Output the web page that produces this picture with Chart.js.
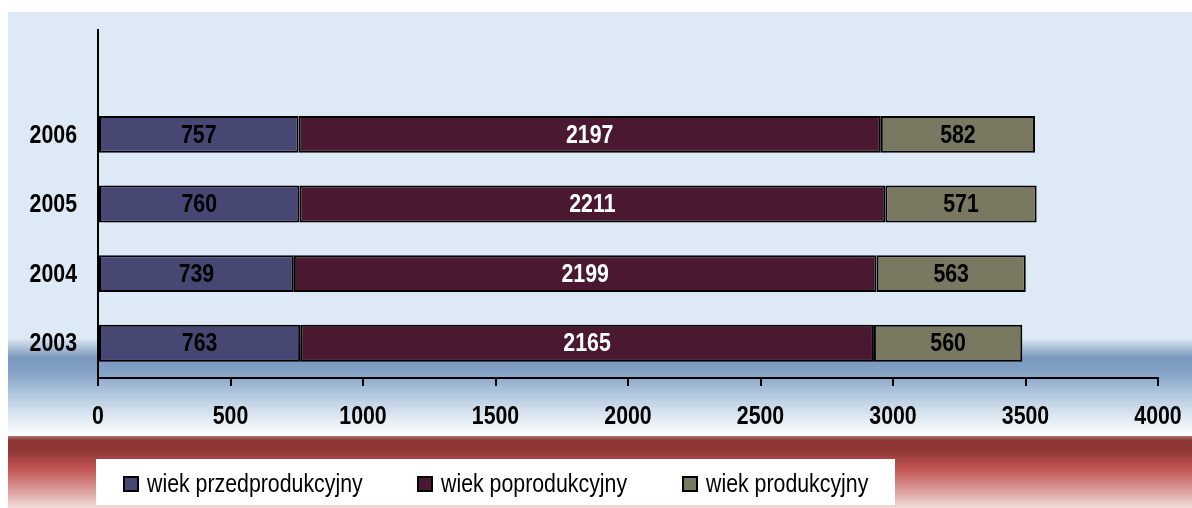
<!DOCTYPE html>
<html>
<head>
<meta charset="utf-8">
<script src="https://cdn.jsdelivr.net/npm/chart.js@4"></script>
<style>
  html, body { margin: 0; padding: 0; background: #fff; }
  #wrap { width: 1192px; height: 508px; }
</style>
</head>
<body>
<div id="wrap"><canvas id="populationChart" width="1192" height="508"></canvas></div>
<script>
// data
const years = ['2006', '2005', '2004', '2003'];
const predprodukcyjny = [757, 760, 739, 763];
const poprodukcyjny = [2197, 2211, 2199, 2165];
const produkcyjny = [582, 571, 563, 560];
const xTickValues = [0, 500, 1000, 1500, 2000, 2500, 3000, 3500, 4000];

const FONT = '"Liberation Sans", Arial, sans-serif';
const NARROW = 0.82; // no narrow face installed, so squeeze text by hand

// empty top slot leaves the gap above the 2006 bar
const labels = [''].concat(years);
const pad = arr => [null].concat(arr);

function narrowText(ctx, text, x, y) {
    ctx.save();
    ctx.translate(x, y);
    ctx.scale(NARROW, 1);
    ctx.fillText(text, 0, 0);
    ctx.restore();
}

// background bands
const backgroundPlugin = {
    id: 'bands',
    beforeDraw(chart) {
        const ctx = chart.ctx;
        const w = chart.width;
        ctx.save();
        ctx.fillStyle = '#ffffff';
        ctx.fillRect(0, 0, w, chart.height);

        let g = ctx.createLinearGradient(0, 12, 0, 436);
        g.addColorStop(0, '#dde9f5');
        g.addColorStop((338 - 12) / 424, '#dde9f5');
        g.addColorStop((346 - 12) / 424, '#b4c8dc');
        g.addColorStop((358 - 12) / 424, '#7a97be');
        g.addColorStop((372 - 12) / 424, '#84a2c6');
        g.addColorStop((395 - 12) / 424, '#b3c9df');
        g.addColorStop((418 - 12) / 424, '#e0eaf3');
        g.addColorStop(1, '#ffffff');
        ctx.fillStyle = g;
        ctx.fillRect(8, 12, w - 8, 424);

        g = ctx.createLinearGradient(0, 436, 0, 508);
        g.addColorStop(0, '#b07a78');
        g.addColorStop(0.06, '#8a3634');
        g.addColorStop(0.2, '#8f3836');
        g.addColorStop(0.45, '#c25452');
        g.addColorStop(0.75, '#d99b99');
        g.addColorStop(1, '#f2dcda');
        ctx.fillStyle = g;
        ctx.fillRect(8, 436, w - 8, 72);
        ctx.restore();
    }
};

// axis labels, drawn narrow at the scales' own pixel positions
const axisLabels = {
    id: 'axisLabels',
    afterDraw(chart) {
        const ctx = chart.ctx;
        const x = chart.scales.x;
        const y = chart.scales.y;
        ctx.save();
        ctx.font = 'bold 26px ' + FONT;
        ctx.fillStyle = '#000000';
        ctx.textBaseline = 'middle';
        ctx.textAlign = 'center';
        xTickValues.forEach(v => {
            narrowText(ctx, String(v), x.getPixelForValue(v), 417);
        });
        ctx.textAlign = 'right';
        labels.forEach((lab, i) => {
            if (!lab) return;
            narrowText(ctx, lab, 77, y.getPixelForValue(i) + 1);
        });
        ctx.restore();
    }
};

// value labels in the middle of each segment
const valueLabels = {
    id: 'valueLabels',
    afterDatasetsDraw(chart) {
        const ctx = chart.ctx;
        ctx.save();
        ctx.font = 'bold 26px ' + FONT;
        ctx.textAlign = 'center';
        ctx.textBaseline = 'middle';
        chart.data.datasets.forEach((ds, i) => {
            const meta = chart.getDatasetMeta(i);
            meta.data.forEach((bar, j) => {
                const v = ds.data[j];
                if (v === null) return;
                const p = bar.getCenterPoint();
                ctx.fillStyle = ds.labelColor;
                narrowText(ctx, String(v), p.x, p.y + 1);
            });
        });
        ctx.restore();
    }
};

// legend in a white box at the bottom
const boxLegend = {
    id: 'boxLegend',
    afterDraw(chart) {
        const ctx = chart.ctx;
        const itemX = [123, 417, 682];
        ctx.save();
        ctx.fillStyle = '#ffffff';
        ctx.fillRect(96, 459, 799, 46);
        ctx.font = '26px ' + FONT;
        ctx.textBaseline = 'alphabetic';
        ctx.textAlign = 'left';
        chart.data.datasets.forEach((ds, i) => {
            const x = itemX[i];
            ctx.fillStyle = ds.backgroundColor;
            ctx.fillRect(x, 476, 16, 16);
            ctx.strokeStyle = '#000';
            ctx.lineWidth = 2;
            ctx.strokeRect(x + 1, 477, 14, 14);
            ctx.fillStyle = '#000';
            narrowText(ctx, ds.label, x + 24, 492);
        });
        ctx.restore();
    }
};

const ctx = document.getElementById('populationChart').getContext('2d');

const chart = new Chart(ctx, {
    type: 'bar',
    data: {
        labels: labels,
        datasets: [
            {
                label: 'wiek przedprodukcyjny',
                data: pad(predprodukcyjny),
                backgroundColor: '#464873',
                labelColor: '#000000'
            },
            {
                label: 'wiek poprodukcyjny',
                data: pad(poprodukcyjny),
                backgroundColor: '#4a1830',
                labelColor: '#ffffff'
            },
            {
                label: 'wiek produkcyjny',
                data: pad(produkcyjny),
                backgroundColor: '#787960',
                labelColor: '#000000'
            }
        ]
    },
    options: {
        indexAxis: 'y',
        responsive: false,
        animation: false,
        layout: {
            padding: { left: 0, right: 34, top: 30, bottom: 0 }
        },
        datasets: {
            bar: {
                borderColor: '#000000',
                borderWidth: 2,
                borderSkipped: false,
                categoryPercentage: 1,
                barPercentage: 0.53
            }
        },
        plugins: {
            legend: { display: false },
            tooltip: { enabled: false }
        },
        scales: {
            x: {
                stacked: true,
                min: 0,
                max: 4000,
                afterBuildTicks: scale => {
                    scale.ticks = xTickValues.map(v => ({ value: v }));
                },
                afterFit: scale => { scale.height = 130; },
                grid: {
                    drawOnChartArea: false,
                    drawTicks: true,
                    tickLength: 8,
                    color: '#000000',
                    lineWidth: 2
                },
                border: { display: true, color: '#000000', width: 2 },
                ticks: { display: false }
            },
            y: {
                stacked: true,
                afterFit: scale => { scale.width = 98; },
                grid: { display: false, drawTicks: false },
                border: { display: true, color: '#000000', width: 2 },
                ticks: { display: false }
            }
        }
    },
    plugins: [backgroundPlugin, valueLabels, axisLabels, boxLegend]
});
</script>
</body>
</html>
